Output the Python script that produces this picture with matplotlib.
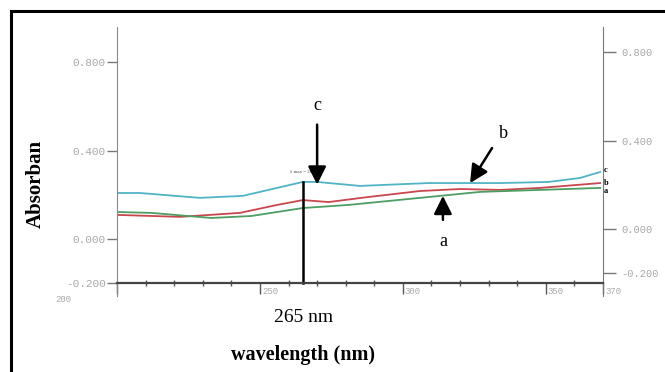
import matplotlib.pyplot as plt
from matplotlib.patches import Rectangle
from matplotlib.transforms import ScaledTranslation

# --- data ---
wl_c = [200, 208, 229, 244, 256, 265, 270, 285, 309, 334, 351, 362, 369]
abs_c = [0.208, 0.208, 0.186, 0.195, 0.231, 0.258, 0.258, 0.240, 0.253, 0.253, 0.258, 0.276, 0.303]

wl_b = [200, 222, 243, 256, 265, 274, 288, 306, 320, 334, 348, 369]
abs_b = [0.109, 0.100, 0.118, 0.154, 0.176, 0.167, 0.190, 0.217, 0.226, 0.222, 0.231, 0.253]

wl_a = [200, 212, 233, 247, 265, 281, 306, 327, 348, 369]
abs_a = [0.122, 0.118, 0.095, 0.104, 0.140, 0.154, 0.186, 0.213, 0.222, 0.231]

y_ticks = [-0.2, 0.0, 0.4, 0.8]
y_labels = ["-0.200", "0.000", "0.400", "0.800"]
x_major = [200, 250, 300, 350, 370]
x_labels = ["200", "250", "300", "350", "370"]
x_minor = list(range(210, 370, 10))
lam_max = 265

col_c = "#4fb4c6"
col_b = "#c9474d"
col_a = "#4c9e62"
tick_grey = "#a8a8a8"

fig = plt.figure(figsize=(6.65, 3.72), dpi=100)
fig.add_artist(Rectangle((11 / 665, -0.1), 1.2, 1 - 11 / 372 + 0.1, transform=fig.transFigure,
                         fill=False, edgecolor="black", linewidth=2.2))

ax = fig.add_axes([117 / 665, 1 - 296 / 372, 486 / 665, 269 / 372])
ax.set_xlim(200, 370)
ax.set_ylim(-0.258, 0.959)

ax.plot(wl_c, abs_c, color=col_c, lw=1.3)
ax.plot(wl_b, abs_b, color=col_b, lw=1.3)
ax.plot(wl_a, abs_a, color=col_a, lw=1.3)

# lambda max marker
peak = abs_c[wl_c.index(lam_max)]
ax.plot([lam_max, lam_max], [-0.2, peak], color="black", lw=1.8)
ax.text(lam_max + 1, peak + 0.045, "\u03bb max = 265 nm", fontsize=3.5, family="Liberation Serif",
        ha="center", va="center", color="#444")

# spines
ax.spines["top"].set_visible(False)
ax.spines["left"].set_color("#8a8a8a")
ax.spines["right"].set_color("#7a7a7a")
ax.spines["bottom"].set_position(("data", -0.2))
ax.spines["bottom"].set_color("#444444")
ax.spines["bottom"].set_linewidth(1.6)

ax.set_yticks(y_ticks, y_labels)
ax.tick_params(axis="y", direction="out", length=7, width=1, color="#777",
               labelsize=8, labelcolor=tick_grey, pad=1)
for lab in ax.get_yticklabels():
    lab.set_family("Liberation Mono")

ax.set_xticks(x_major, x_labels)
ax.set_xticks(x_minor, minor=True)
ax.tick_params(axis="x", which="major", direction="out", length=8, width=1, color="#555",
               labelsize=6.5, labelcolor=tick_grey, pad=-5.5)
ax.tick_params(axis="x", which="minor", direction="inout", length=5, width=1, color="#555")
for lab in ax.get_xticklabels():
    lab.set_family("Liberation Mono")
    lab.set_horizontalalignment("left")
    lab.set_transform(lab.get_transform() + ScaledTranslation(2 / 100, 0, fig.dpi_scale_trans))
first = ax.get_xticklabels()[0]
first.set_transform(first.get_transform() + ScaledTranslation(-64 / 100, -8 / 100, fig.dpi_scale_trans))

# right-hand scale of the scan sits ~10 px higher
axr = ax.twinx()
axr.set_ylim(-0.258 - 0.045, 0.959 - 0.045)
for s in ["top", "left", "bottom", "right"]:
    axr.spines[s].set_visible(False)
axr.set_yticks(y_ticks, y_labels)
axr.tick_params(axis="y", direction="out", length=9, width=1, color="#777",
                labelsize=7.5, labelcolor=tick_grey, pad=4)
for lab in axr.get_yticklabels():
    lab.set_family("Liberation Mono")

# curve labels at the right end
for wl, ab, name, dy in [(wl_c, abs_c, "c", 2), (wl_b, abs_b, "b", 0), (wl_a, abs_a, "a", -3)]:
    ax.annotate(name, (wl[-1], ab[-1]), xytext=(4, dy), textcoords="offset pixels",
                fontsize=6, fontweight="bold", family="Liberation Serif", va="center")

# arrows with letters
arrow = dict(arrowstyle="-|>,head_width=0.55,head_length=1.1", color="black", lw=1.8,
             mutation_scale=10, shrinkA=0, shrinkB=0)
ax.annotate("", xy=(270, abs_c[6] - 0.012), xytext=(0, 60), textcoords="offset pixels", arrowprops=arrow)
ax.annotate("c", xy=(270, abs_c[6] - 0.012), xytext=(0, 79), textcoords="offset pixels",
            fontsize=13, family="Liberation Serif", ha="center", va="center")
ax.annotate("", xy=(323.5, 0.253), xytext=(22, 35), textcoords="offset pixels", arrowprops=arrow)
ax.annotate("b", xy=(323.5, 0.253), xytext=(33, 50), textcoords="offset pixels",
            fontsize=13, family="Liberation Serif", ha="center", va="center")
ax.annotate("", xy=(314, 0.195), xytext=(0, -24), textcoords="offset pixels", arrowprops=arrow)
ax.annotate("a", xy=(314, 0.195), xytext=(0, -46), textcoords="offset pixels",
            fontsize=13, family="Liberation Serif", ha="center", va="center")

fig.text(304 / 665, 1 - 318 / 372, "265 nm", fontsize=14, family="Liberation Serif",
         ha="center", va="center")
fig.text(303 / 665, 1 - 355 / 372, "wavelength (nm)", fontsize=14.5, family="Liberation Serif",
         fontweight="bold", ha="center", va="center")
fig.text(36 / 665, 1 - 184 / 372, "Absorban", fontsize=15, family="Liberation Serif",
         fontweight="bold", rotation=90, ha="center", va="center")

fig.savefig("out.png", dpi=100)
